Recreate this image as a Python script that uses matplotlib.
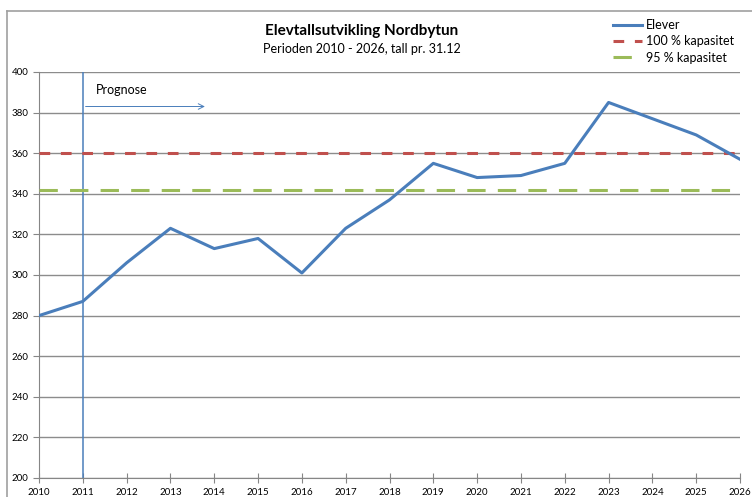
import matplotlib.pyplot as plt
from matplotlib.lines import Line2D

# Data
years = list(range(2010, 2027))
elever = [280, 287, 306, 323, 313, 318, 301, 323, 337, 355, 348, 349, 355, 385, 377, 369, 357]
kap_100 = 360
kap_95 = 342
prognose_start = 2011

plt.rcParams['font.family'] = ['Lato', 'DejaVu Sans']

fig = plt.figure(figsize=(7.52, 4.97), dpi=100)
ax = fig.add_axes([39/752, 1 - 478/497, (740 - 39)/752, (478 - 72)/497])

ax.plot(years, elever, color='#4a7ebb', lw=2.2, label='Elever', zorder=4)
ax.plot([years[0], years[-1]], [kap_100, kap_100], color='#c0504d', lw=2.2,
        dashes=(3.5, 3.5), label='100 % kapasitet', zorder=3)
ax.plot([years[0], years[-1]], [kap_95, kap_95], color='#9bbb59', lw=2.2,
        dashes=(6, 4), label='95 % kapasitet', zorder=3)

# prognose line + arrow
ax.axvline(prognose_start, color='#4a7ebb', lw=1.1, zorder=2)
ax.annotate('', xy=(2013.85, 383), xytext=(prognose_start, 383),
            arrowprops=dict(arrowstyle='->', color='#4a7ebb', lw=0.7, mutation_scale=10))
ax.text(2011.3, 388, 'Prognose', fontsize=9, va='bottom', ha='left')

ax.set_xlim(2010, 2026)
ax.set_ylim(200, 400)
ax.set_xticks(years)
ax.set_yticks(range(200, 401, 20))
ax.tick_params(axis='both', labelsize=7, color='#868686', length=4)
ax.tick_params(axis='x', direction='inout', length=7)
ax.yaxis.grid(True, color='#8c8c8c', lw=1)
ax.set_axisbelow(True)
for s in ['top', 'right']:
    ax.spines[s].set_visible(False)
for s in ['left', 'bottom']:
    ax.spines[s].set_color('#868686')

# chart border
fig.add_artist(Line2D([7/752, 1], [1 - 11/497, 1 - 11/497], color='#a0a0a0', lw=1.2, transform=fig.transFigure))
fig.add_artist(Line2D([7/752, 7/752], [0, 1 - 11/497], color='#a0a0a0', lw=1.2, transform=fig.transFigure))

fig.text(362/752, 1 - 31/497, 'Elevtallsutvikling Nordbytun', fontsize=11, fontweight='bold',
         ha='center', va='center')
fig.text(362/752, 1 - 49/497, 'Perioden 2010 - 2026, tall pr. 31.12', fontsize=9,
         ha='center', va='center')

fig.legend(loc='upper left', bbox_to_anchor=(608/752, 1 - 14/497), frameon=False,
           fontsize=9, handlelength=2.3, handletextpad=0.3, labelspacing=0.35,
           borderaxespad=0)

fig.savefig('out.png', dpi=100)
